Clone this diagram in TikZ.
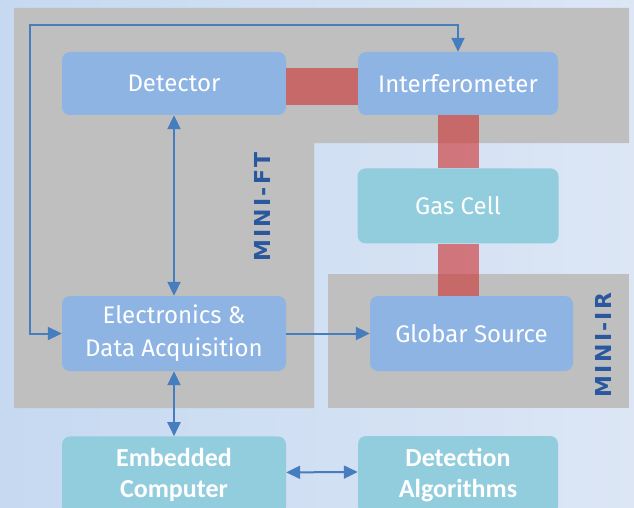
\documentclass[tikz,border=0pt]{standalone}
\usepackage{fontspec}
\newfontfamily\boxfont{Fira Sans}
\newfontfamily\calfont{Carlito}
\newfontfamily\zonefont{DejaVu Sans}[LetterSpace=10]
\usetikzlibrary{arrows.meta, positioning}
\definecolor{bgleft}{RGB}{198, 217, 241}
\definecolor{bgright}{RGB}{220, 230, 245}
\definecolor{zonegray}{RGB}{191, 191, 191}
\definecolor{boxblue}{RGB}{142, 180, 227}
\definecolor{boxcyan}{RGB}{146, 205, 221}
\definecolor{linkred}{RGB}{205, 60, 60}
\definecolor{arrowblue}{RGB}{70, 125, 190}
\definecolor{zoneblue}{RGB}{42, 88, 158}

\begin{document}
\begin{tikzpicture}[
  x=1pt, y=-1pt,
  unit/.style={rectangle, rounded corners=8pt, fill=boxblue, text=white, inner sep=0pt,
               align=center, font=\boxfont\fontsize{24}{33}\selectfont},
  compunit/.style={unit, fill=boxcyan, font=\calfont\bfseries\fontsize{26}{31}\selectfont},
  zonelabel/.style={text=zoneblue, inner sep=0pt, rotate=90,
                    font=\zonefont\bfseries\fontsize{22}{22}\selectfont},
  redlink/.style={draw=linkred, draw opacity=0.65, line width=#1},
  arr/.style={-{Triangle[length=14pt, width=13pt]}, line width=2pt, arrowblue},
  dblarr/.style={arr, {Triangle[length=14pt, width=13pt]}-{Triangle[length=14pt, width=13pt]}}
]
  \clip (0,0) rectangle (634,508);
  \shade[left color=bgleft, right color=bgright] (0,0) rectangle (634,508);
  \fill[zonegray] (14,8) -- (629,8) -- (629,143) -- (314,143) -- (314,408) -- (14,408) -- cycle;
  \fill[zonegray] (328,274) rectangle (629,408);

  \node[unit, minimum width=224, minimum height=63] (det) at (174,83.5) {Detector};
  \node[unit, minimum width=200, minimum height=63] (interf) at (458,83.5) {Interferometer};
  \node[unit, fill=boxcyan, minimum width=201, minimum height=75, below=53pt of interf] (gas) {Gas Cell};
  \node[unit, minimum width=203, minimum height=75] (glob) at (471.5,333.5) {Globar Source};
  \node[unit, minimum width=224, minimum height=75] (elec) at (174,333.5) {Electronics \&\\Data Acquisition};
  \node[compunit, minimum width=224, minimum height=78, below=65pt of elec] (emb) {Embedded\\Computer};
  \node[compunit, minimum width=200, minimum height=78] (alg) at (458,475) {Detection\\Algorithms};

  \node[zonelabel] (ft) at (262,207) {MINI-FT};
  \node[zonelabel] (ir) at (603,345) {MINI-IR};

  \draw[redlink=37pt] ([yshift=-3pt]det.east) -- ([yshift=-3pt]interf.west);
  \draw[redlink=41pt] (interf.south) -- (gas.north);
  \draw[redlink=41pt] (gas.south) -- (gas.south |- glob.north);

  \coordinate (loop) at (30,25);
  \draw[dblarr] (elec.west) -| (loop) -| (interf.north);
  \draw[dblarr] (det.south) -- (elec.north);
  \draw[arr] (elec.east) -- (glob.west);
  \draw[dblarr] (elec.south) -- (emb.north);
  \draw[dblarr] ([yshift=3pt]emb.east) -- ([yshift=3pt]alg.west);
\end{tikzpicture}
\end{document}
